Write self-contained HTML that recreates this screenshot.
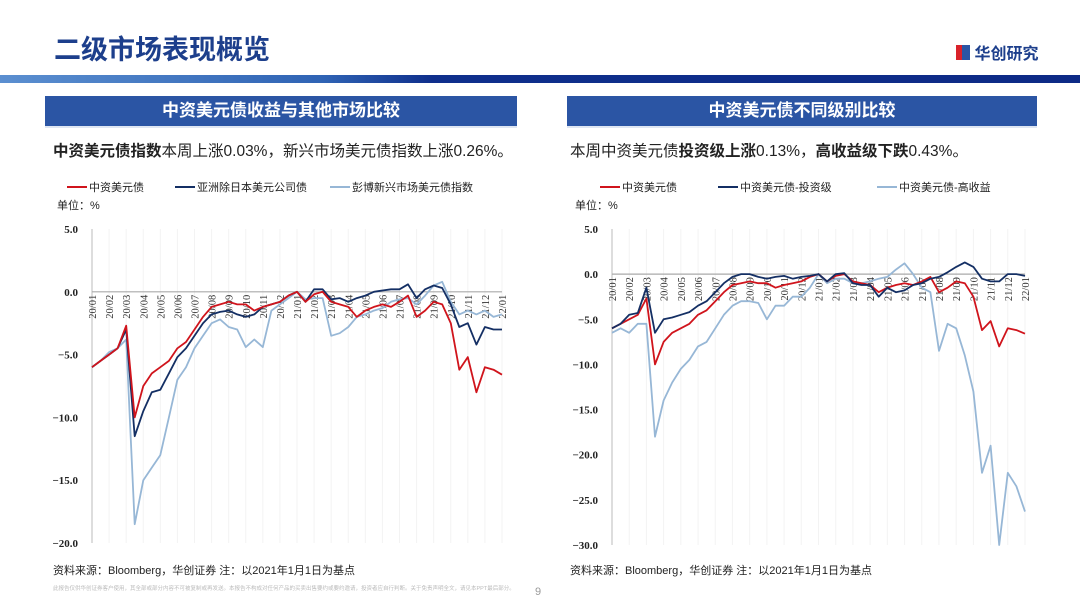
<!DOCTYPE html>
<html><head><meta charset="utf-8">
<style>
body{margin:0;width:1080px;height:608px;background:#fff;position:relative;overflow:hidden;font-family:"Liberation Sans","Noto Sans CJK SC",sans-serif;}
.abs{position:absolute;}
.hdr{background:#2b55a4;color:#fff;font-weight:bold;font-size:17px;text-align:center;line-height:30px;height:30px;border-bottom:2px solid #dfe6f2;}
.sub{font-size:15.5px;color:#222;}
.src{font-size:11px;color:#222;}
</style></head><body>
<div class="abs" style="left:54px;top:28px;font-size:27px;font-weight:bold;color:#1d3f8c;">二级市场表现概览</div>
<div class="abs" style="left:956px;top:40px;">
  <span style="display:inline-block;width:8px;height:15px;background:#d9222a;vertical-align:middle;"></span><span style="display:inline-block;width:8px;height:15px;background:#2b55a4;vertical-align:middle;margin-left:-2px;"></span>
  <span style="font-size:16px;font-weight:bold;color:#1d3f8c;vertical-align:middle;">华创研究</span>
</div>
<div class="abs" style="left:0;top:75px;width:1080px;height:8px;background:linear-gradient(90deg,#5b8fd0 0%,#2f63b4 30%,#0f2f8c 40%,#0d2a86 100%);"></div>

<div class="abs hdr" style="left:45px;top:96px;width:472px;">中资美元债收益与其他市场比较</div>
<div class="abs hdr" style="left:567px;top:96px;width:470px;">中资美元债不同级别比较</div>

<div class="abs sub" style="left:53px;top:139px;"><b>中资美元债指数</b>本周上涨0.03%，新兴市场美元债指数上涨0.26%。</div>
<div class="abs sub" style="left:570px;top:139px;">本周中资美元债<b>投资级上涨</b>0.13%，<b>高收益级下跌</b>0.43%。</div>

<svg class="abs" style="left:0;top:0" width="1080" height="608" id="svg"></svg>

<div class="abs src" style="left:53px;top:562px;">资料来源：Bloomberg，华创证券 注：以2021年1月1日为基点</div>
<div class="abs src" style="left:570px;top:562px;">资料来源：Bloomberg，华创证券 注：以2021年1月1日为基点</div>
<div class="abs" style="left:53px;top:584px;font-size:5.5px;color:#bbb;">此报告仅供华创证券客户使用，其全部或部分内容不可被复制或再发送。本报告不构成对任何产品的买卖出售要约或要约邀请，投资者应自行判断。关于免责声明全文，请见本PPT最后部分。</div>
<div class="abs" style="left:535px;top:586px;font-size:11px;color:#999;">9</div>

<script>
var months=["20/01","20/02","20/03","20/04","20/05","20/06","20/07","20/08","20/09","20/10","20/11","20/12","21/01","21/02","21/03","21/04","21/05","21/06","21/07","21/08","21/09","21/10","21/11","21/12","22/01"];
var leftTicks=[5,0,-5,-10,-15,-20];
var rightTicks=[5,0,-5,-10,-15,-20,-25,-30];
var cnUSD=[-6,-5.5,-5,-4.5,-2.7,-10,-7.5,-6.5,-6,-5.5,-4.5,-4,-3,-2,-1.2,-1,-0.8,-1,-1,-1.5,-1.2,-1,-0.8,-0.3,0,-0.8,-0.2,0,-0.8,-1,-1.2,-2,-1.5,-1.2,-1,-1.2,-0.8,-0.3,-2,-1.5,-0.8,-1,-2.5,-6.2,-5.2,-8,-6,-6.2,-6.6];
var asiaExJp=[-6,-5.5,-5,-4.5,-3,-11.5,-9.5,-8,-7.8,-6.5,-5.2,-4.5,-3.5,-2.5,-1.8,-1.6,-1.5,-1.8,-2,-1.8,-1.2,-1,-0.8,-0.3,0,-0.8,0.2,0.2,-0.6,-0.5,-0.8,-0.5,-0.3,0,0.1,0.2,0.2,0.6,-0.5,0.2,0.5,0.3,-1,-2.8,-2.5,-4.2,-2.8,-3,-3];
var emBBG=[-6,-5.5,-4.8,-4.5,-3.8,-18.5,-15,-14,-13,-10,-7,-6,-4.5,-3.5,-2.5,-2.2,-2.8,-3,-4.4,-3.8,-4.4,-1.5,-1,-0.5,0,-0.6,-0.5,-0.5,-3.5,-3.3,-2.8,-2,-1.8,-1.5,-1.3,-0.8,-0.6,-0.5,-1,-0.3,0.5,0.8,-0.8,-1.8,-1.5,-1.8,-1.5,-2,-1.8];
var invGrade=[-6,-5.5,-4.5,-4.3,-1.5,-6.5,-5,-4.8,-4.5,-4.2,-3.5,-3,-2,-1,-0.3,0,0,-0.3,-0.5,-0.3,-0.2,-0.5,-0.3,-0.2,0,-0.8,0,0.1,-1,-1.2,-1.2,-2.5,-1.5,-2,-1.8,-1.2,-1,-0.5,-0.3,0.2,0.8,1.3,0.8,-0.5,-0.8,-0.8,0,0,-0.2];
var highYield=[-6.5,-6,-6.5,-5.5,-5.5,-18,-14,-12,-10.5,-9.5,-8,-7.5,-6,-4.5,-3.5,-3,-3,-3.2,-5,-3.5,-3.5,-2.5,-2.5,-1.5,0,-1,-0.5,-0.5,-1,-1,-0.8,-0.5,-0.3,0.5,1.2,0,-1.5,-2,-8.5,-5.5,-6,-9,-13,-22,-19,-30,-22,-23.5,-26.3];

var NS="http://www.w3.org/2000/svg";
var svg=document.getElementById('svg');
function mk(t,a,p){var e=document.createElementNS(NS,t);for(var k in a)e.setAttribute(k,a[k]);(p||svg).appendChild(e);return e;}

function chart(cfg){
  var g=mk('g',{});
  
  
  function X(i,n){return cfg.x0+(cfg.x1-cfg.x0)*i/(n-1);}
  function Y(v){return cfg.y0+(cfg.ymax-v)/(cfg.ymax-cfg.ymin)*(cfg.y1-cfg.y0);}
  for(var m=0;m<months.length;m++){
    var x=X(m,months.length);
    var gl=mk('line',{x1:x,x2:x,y1:cfg.y0,y2:cfg.y1,stroke:'#f3f3f3','stroke-width':1},g);
    
    
  }
  var ya=mk('line',{x1:cfg.x0,x2:cfg.x0,y1:cfg.y0,y2:cfg.y1,stroke:'#bbb','stroke-width':1},g);
  
  
  cfg.ticks.forEach(function(t){
    var y=Y(t);
    var tl=mk('text',{x:cfg.x0-14,y:y+4,'text-anchor':'end','font-size':11,'font-weight':'bold','font-family':'Liberation Serif, serif',fill:'#222'},g);
    tl.textContent=t.toFixed(1).replace('-','−');
    
    
  });
  var za=mk('line',{x1:cfg.x0,x2:cfg.x1,y1:Y(0),y2:Y(0),stroke:'#aaa','stroke-width':1.2},g);
  
  
  months.forEach(function(lab,m){
    var x=X(m,months.length);
    var t=mk('text',{x:0,y:0,'font-size':10.5,'font-family':'Liberation Serif, serif',fill:'#333','text-anchor':'end',transform:'translate('+(x+4)+','+(Y(0)+3)+') rotate(-90)'},g);
    t.textContent=lab;
    
    
  });
  cfg.series.forEach(function(s){
    var d='';
    s.data.forEach(function(v,i){d+=(i?'L':'M')+X(i,s.data.length).toFixed(1)+','+Y(v).toFixed(1);});
    var p=mk('path',{d:d,fill:'none',stroke:s.color,'stroke-width':1.8,'stroke-linejoin':'round'},g);
    
    
  });
  cfg.legend.forEach(function(l){
    var ln=mk('line',{x1:l.x,x2:l.x+20,y1:187,y2:187,stroke:l.color,'stroke-width':2},g);
    
    
    var lt=mk('text',{x:l.x+22,y:191,'font-size':11,fill:'#222'},g);
    lt.textContent=l.label;
    
    
  });
  var u=mk('text',{x:cfg.unitX,y:209,'font-size':11,fill:'#222'},g);
  u.textContent='单位：%';
  
  
}

chart({name:'left-chart',x0:92,x1:502,y0:229,y1:543,ymax:5,ymin:-20,ticks:leftTicks,unitX:57,
  series:[{name:'series-em-bloomberg',data:emBBG,color:'#97b7d6'},{name:'series-asia-ex-japan',data:asiaExJp,color:'#142f64'},{name:'series-china-usd-bond',data:cnUSD,color:'#d0141c'}],
  legend:[{x:67,color:'#d0141c',label:'中资美元债'},{x:175,color:'#142f64',label:'亚洲除日本美元公司债'},{x:330,color:'#97b7d6',label:'彭博新兴市场美元债指数'}]});
chart({name:'right-chart',x0:612,x1:1025,y0:229,y1:545,ymax:5,ymin:-30,ticks:rightTicks,unitX:575,
  series:[{name:'series-high-yield',data:highYield,color:'#97b7d6'},{name:'series-china-usd-bond',data:cnUSD,color:'#d0141c'},{name:'series-investment-grade',data:invGrade,color:'#142f64'}],
  legend:[{x:600,color:'#d0141c',label:'中资美元债'},{x:718,color:'#142f64',label:'中资美元债-投资级'},{x:877,color:'#97b7d6',label:'中资美元债-高收益'}]});
</script>
</body></html>
